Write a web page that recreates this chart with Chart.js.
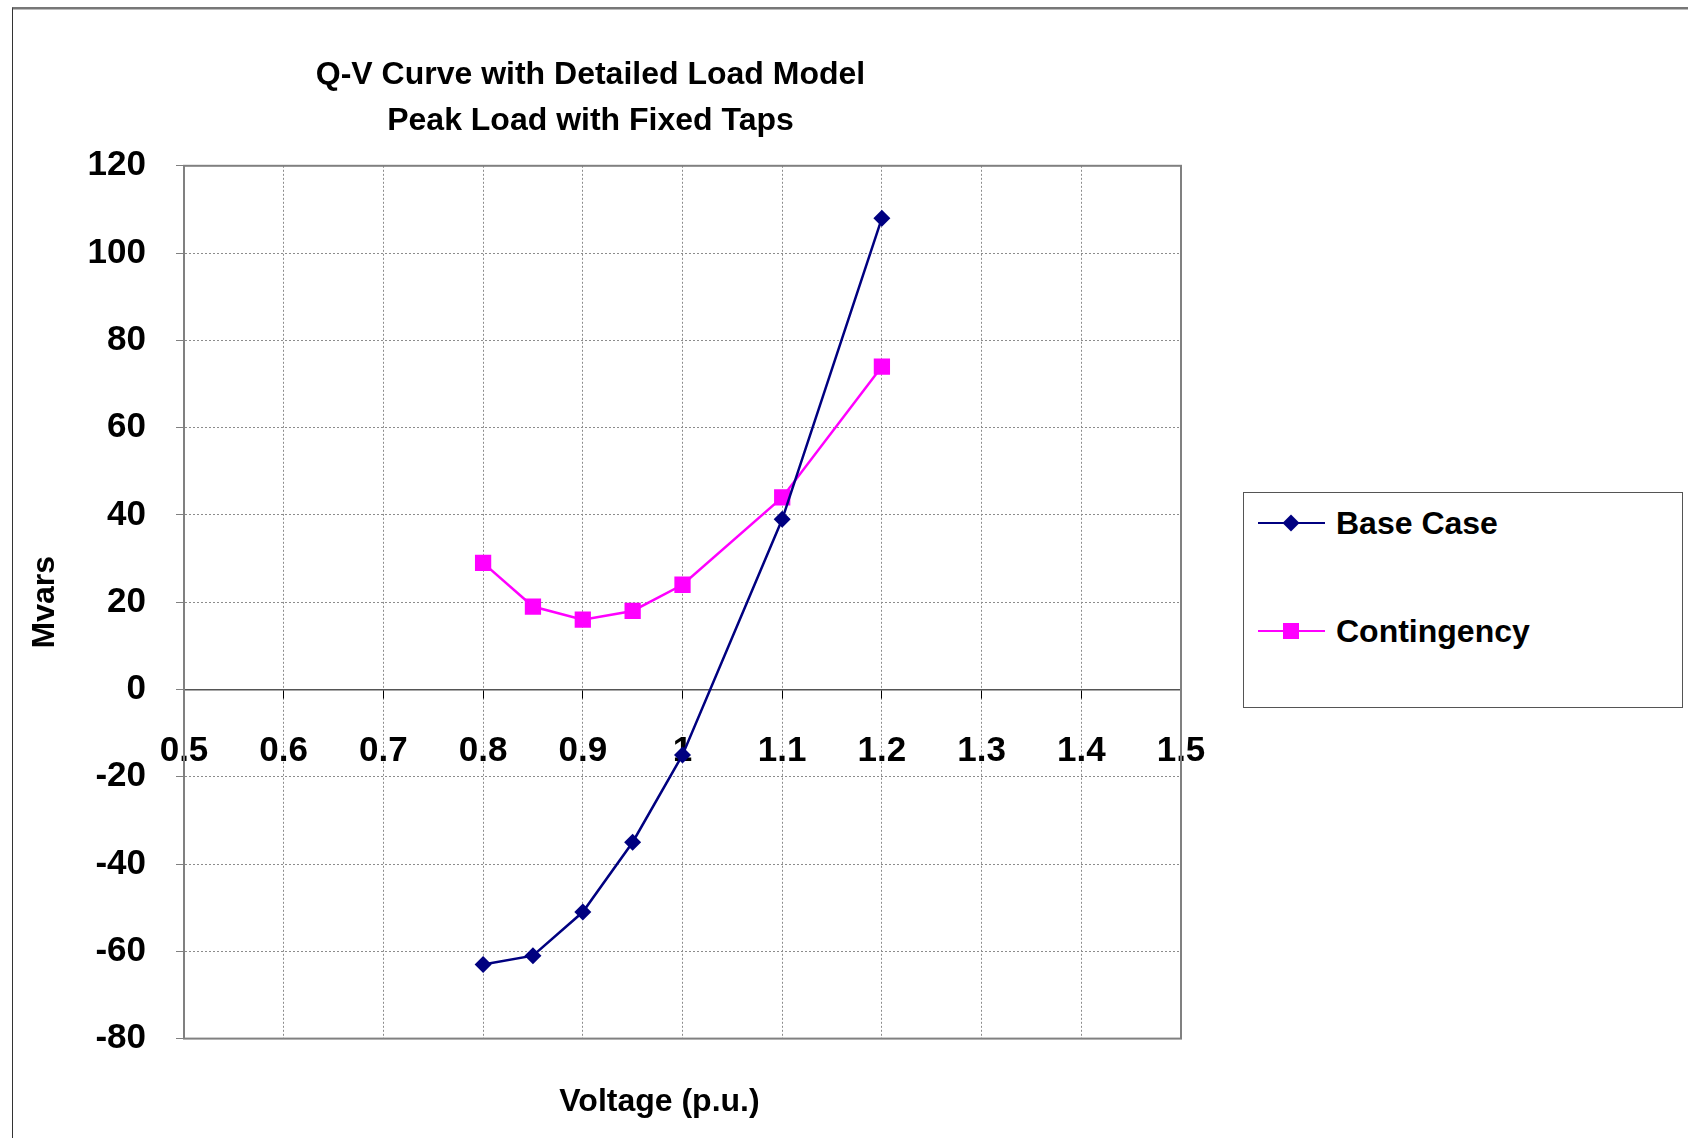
<!DOCTYPE html>
<html>
<head>
<meta charset="utf-8">
<script src="https://cdn.jsdelivr.net/npm/chart.js@4/dist/chart.umd.min.js"></script>
<style>
  html, body { margin: 0; padding: 0; background: #fff; }
  #wrap { position: relative; width: 1688px; height: 1138px; overflow: hidden; font-family: "Liberation Sans", Arial, sans-serif; }
  #frame { position: absolute; left: 12px; top: 7px; width: 1800px; height: 1300px;
           border-left: 1px solid #333; border-top: 2px solid #777; box-shadow: inset 0 1px 0 #bbb; }
  #chart { position: absolute; left: 0; top: 0; }
  #legend { position: absolute; left: 1243px; top: 492px; width: 438px; height: 214px;
            border: 1px solid #555; background: #fff; }
  .item { position: absolute; left: 0; height: 40px; width: 100%; }
  .item .line { position: absolute; left: 14px; top: 19px; width: 67px; height: 2px; }
  .item .mark { position: absolute; }
  .item .txt { position: absolute; left: 92px; top: 0; line-height: 40px; font-size: 32px; font-weight: bold; color: #000; white-space: nowrap; }
</style>
</head>
<body>
<div id="wrap">
  <div id="frame"></div>
  <canvas id="chart" width="1688" height="1138"></canvas>
  <div id="legend"></div>
</div>
<script>
const voltage = [0.8, 0.85, 0.9, 0.95, 1.0, 1.1, 1.2];
const baseCase = [-63, -61, -51, -35, -15, 39, 108];
const contingency = [29, 19, 16, 18, 24, 44, 74];
const xTicks = [0.5, 0.6, 0.7, 0.8, 0.9, 1, 1.1, 1.2, 1.3, 1.4, 1.5];
const yTicks = [-80, -60, -40, -20, 0, 20, 40, 60, 80, 100, 120];

const navy = '#000080';
const magenta = '#ff00ff';
const fontFamily = '"Liberation Sans", Arial, sans-serif';
const xTitle = 'Voltage (p.u.)';

const series = [
  { label: 'Base Case', values: baseCase, color: navy, pointStyle: 'rectRot', radius: 8.5 },
  { label: 'Contingency', values: contingency, color: magenta, pointStyle: 'rect', radius: 11.5 }
];

// grey outline round the plot area (Excel style)
const plotFrame = {
  id: 'plotFrame',
  afterLayout(chart) {
    // the axis title sits a little left of the plot centre in the original
    chart.boxes.forEach(b => {
      if (b.options && b.options.text === xTitle) {
        b.left -= 23;
        b.right -= 23;
      }
    });
  },
  beforeDatasetsDraw(chart) {
    const { ctx, chartArea: a } = chart;
    ctx.save();
    ctx.strokeStyle = '#808080';
    ctx.lineWidth = 2;
    ctx.strokeRect(a.left, a.top, a.right - a.left, a.bottom - a.top);
    ctx.restore();
  }
};

const ctx = document.getElementById('chart').getContext('2d');
new Chart(ctx, {
  type: 'scatter',
  data: {
    datasets: series.map(s => ({
      label: s.label,
      data: voltage.map((v, i) => ({ x: v, y: s.values[i] })),
      showLine: true,
      borderColor: s.color,
      backgroundColor: s.color,
      borderWidth: 2.5,
      pointStyle: s.pointStyle,
      pointRadius: s.radius,
      pointHoverRadius: s.radius,
      pointBorderWidth: 0,
      tension: 0
    }))
  },
  options: {
    responsive: false,
    animation: false,
    layout: { padding: { left: 0, right: 507, top: 0, bottom: 0 } },
    plugins: {
      legend: { display: false },
      tooltip: { enabled: false },
      title: {
        display: true,
        text: ['Q-V Curve with Detailed Load Model', 'Peak Load with Fixed Taps'],
        color: '#000',
        font: { family: fontFamily, size: 32, weight: 'bold', lineHeight: 1.45 },
        padding: { top: 52, bottom: 21 }
      },
      subtitle: {
        display: true,
        position: 'bottom',
        fullSize: false,
        text: xTitle,
        color: '#000',
        font: { family: fontFamily, size: 32, weight: 'bold' },
        padding: { top: 44, bottom: 17 }
      }
    },
    scales: {
      x: {
        type: 'linear',
        position: { y: 0 },
        min: 0.5,
        max: 1.5,
        afterBuildTicks: s => { s.ticks = xTicks.map(v => ({ value: v })); },
        ticks: {
          color: '#000',
          padding: 33,
          maxRotation: 0,
          autoSkip: false,
          font: { family: fontFamily, size: 35, weight: 'bold' },
          callback: v => String(v)
        },
        grid: {
          color: '#8c8c8c',
          lineWidth: 1,
          tickColor: '#000',
          tickLength: 8,
          tickBorderDash: []
        },
        // border.dash styles the grid lines in v4; the axis line itself stays solid
        border: { display: true, color: '#555', width: 1.5, dash: [2, 2] }
      },
      y: {
        type: 'linear',
        min: -80,
        max: 120,
        afterFit: s => { s.width = 184; },
        afterBuildTicks: s => { s.ticks = yTicks.map(v => ({ value: v })); },
        ticks: {
          color: '#000',
          padding: 30,
          font: { family: fontFamily, size: 35, weight: 'bold' }
        },
        grid: {
          color: '#8c8c8c',
          lineWidth: 1,
          tickColor: '#808080',
          tickLength: 8,
          tickBorderDash: []
        },
        border: { display: true, color: '#808080', width: 2, dash: [2, 2] },
        title: {
          display: true,
          text: 'Mvars',
          color: '#000',
          font: { family: fontFamily, size: 32, weight: 'bold' },
          padding: { top: 26, bottom: 0 }
        }
      }
    }
  },
  plugins: [plotFrame]
});

// legend box, built from the same series list
const legendEl = document.getElementById('legend');
const legendTops = [10, 118];
series.forEach((s, i) => {
  const item = document.createElement('div');
  item.className = 'item';
  item.style.top = legendTops[i] + 'px';
  const line = document.createElement('div');
  line.className = 'line';
  line.style.background = s.color;
  const mark = document.createElement('div');
  mark.className = 'mark';
  mark.style.background = s.color;
  if (s.pointStyle === 'rectRot') {
    mark.style.width = '12px';
    mark.style.height = '12px';
    mark.style.left = '41px';
    mark.style.top = '14px';
    mark.style.transform = 'rotate(45deg)';
  } else {
    mark.style.width = '16px';
    mark.style.height = '16px';
    mark.style.left = '39px';
    mark.style.top = '12px';
  }
  const txt = document.createElement('div');
  txt.className = 'txt';
  txt.textContent = s.label;
  item.appendChild(line);
  item.appendChild(mark);
  item.appendChild(txt);
  legendEl.appendChild(item);
});
</script>
</body>
</html>
